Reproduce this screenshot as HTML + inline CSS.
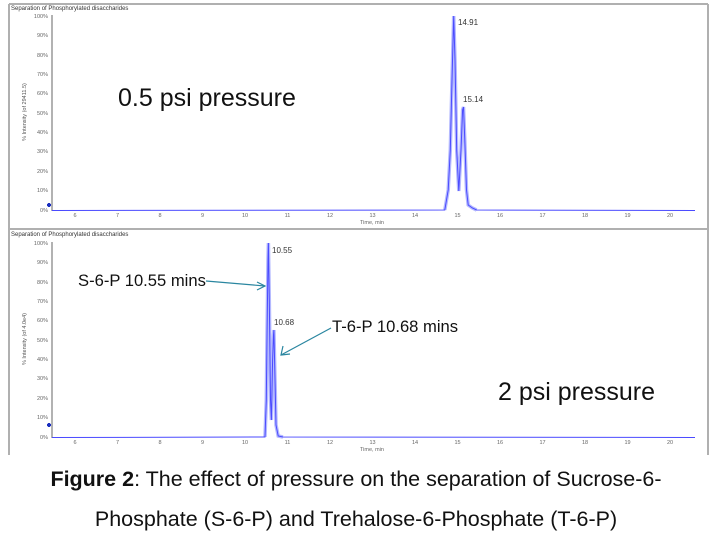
<!DOCTYPE html>
<html><head><meta charset="utf-8"><style>
html,body{margin:0;padding:0;background:#fff;}
svg{display:block;font-family:"Liberation Sans",Arial,sans-serif;}
</style></head><body>
<svg width="712" height="535" viewBox="0 0 712 535">
<line x1="9" y1="4" x2="708" y2="4" stroke="#b0b0b0" stroke-width="2"/>
<line x1="9" y1="229" x2="708" y2="229" stroke="#b0b0b0" stroke-width="2"/>
<line x1="9" y1="4" x2="9" y2="455" stroke="#b0b0b0" stroke-width="2"/>
<line x1="708" y1="4" x2="708" y2="229" stroke="#b0b0b0" stroke-width="2"/>
<line x1="708" y1="229" x2="708" y2="455" stroke="#b0b0b0" stroke-width="2"/>

<text x="11" y="10" font-size="6" fill="#333">Separation of Phosphorylated disaccharides</text>
<line x1="52" y1="15" x2="52" y2="211" stroke="#666" stroke-width="1"/>
<g font-size="5.5" fill="#666" text-anchor="end">
<text x="48" y="18">100%</text><text x="48" y="37">90%</text><text x="48" y="57">80%</text><text x="48" y="76">70%</text><text x="48" y="95">60%</text><text x="48" y="115">50%</text><text x="48" y="134">40%</text><text x="48" y="153">30%</text><text x="48" y="173">20%</text><text x="48" y="192">10%</text><text x="48" y="212">0%</text>
</g>
<text transform="translate(26,112) rotate(-90)" font-size="5.5" fill="#555" text-anchor="middle">% Intensity (of 29411.5)</text>
<g font-size="5.5" fill="#666" text-anchor="middle">
<text x="75" y="217">6</text><text x="117.5" y="217">7</text><text x="160" y="217">8</text><text x="202.5" y="217">9</text><text x="245" y="217">10</text><text x="287.5" y="217">11</text><text x="330" y="217">12</text><text x="372.5" y="217">13</text><text x="415" y="217">14</text><text x="457.5" y="217">15</text><text x="500" y="217">16</text><text x="542.5" y="217">17</text><text x="585" y="217">18</text><text x="627.5" y="217">19</text><text x="670" y="217">20</text>
<text x="372" y="224">Time, min</text>
</g>
<path d="M47 205 h4 M49 203 v4" stroke="#1a2fbf" stroke-width="2.2"/>
<polyline fill="none" stroke="#b4b9ff" stroke-width="3.5" points="444.8,210 448.2,190 450.3,150 452,80 453.7,16 455,60 456.7,150 458.8,191 461,150 462.6,110 463.5,107 464.8,140 466.5,190 468.2,205 472.4,208 476.6,210"/>
<polyline fill="none" stroke="#4a4aff" stroke-width="1" points="52,210.5 444.8,210 448.2,190 450.3,150 452,80 453.7,16 455,60 456.7,150 458.8,191 461,150 462.6,110 463.5,107 464.8,140 466.5,190 468.2,205 472.4,208 476.6,210 695,210.5"/>
<text x="458" y="25" font-size="8" fill="#333">14.91</text>
<text x="463" y="102" font-size="8" fill="#333">15.14</text>
<text x="118" y="106" font-size="25" fill="#111">0.5 psi pressure</text>

<text x="11" y="236" font-size="6" fill="#333">Separation of Phosphorylated disaccharides</text>
<line x1="52" y1="242" x2="52" y2="438" stroke="#666" stroke-width="1"/>
<g font-size="5.5" fill="#666" text-anchor="end">
<text x="48" y="245">100%</text><text x="48" y="264">90%</text><text x="48" y="284">80%</text><text x="48" y="303">70%</text><text x="48" y="322">60%</text><text x="48" y="342">50%</text><text x="48" y="361">40%</text><text x="48" y="380">30%</text><text x="48" y="400">20%</text><text x="48" y="419">10%</text><text x="48" y="439">0%</text>
</g>
<text transform="translate(26,339) rotate(-90)" font-size="5.5" fill="#555" text-anchor="middle">% Intensity (of 4.0e4)</text>
<g font-size="5.5" fill="#666" text-anchor="middle">
<text x="75" y="444">6</text><text x="117.5" y="444">7</text><text x="160" y="444">8</text><text x="202.5" y="444">9</text><text x="245" y="444">10</text><text x="287.5" y="444">11</text><text x="330" y="444">12</text><text x="372.5" y="444">13</text><text x="415" y="444">14</text><text x="457.5" y="444">15</text><text x="500" y="444">16</text><text x="542.5" y="444">17</text><text x="585" y="444">18</text><text x="627.5" y="444">19</text><text x="670" y="444">20</text>
<text x="372" y="451">Time, min</text>
</g>
<path d="M47 425 h4 M49 423 v4" stroke="#1a2fbf" stroke-width="2.2"/>
<polyline fill="none" stroke="#b4b9ff" stroke-width="3.5" points="265,437 266.3,400 267.1,330 268,260 268.4,243 269.3,300 270.5,400 271.4,420 272.6,360 273.5,335 273.9,330 274.8,370 276,425 278.2,436 283,437"/>
<polyline fill="none" stroke="#4a4aff" stroke-width="1" points="52,437.5 265,437 266.3,400 267.1,330 268,260 268.4,243 269.3,300 270.5,400 271.4,420 272.6,360 273.5,335 273.9,330 274.8,370 276,425 278.2,436 283,437 695,437.5"/>
<text x="272" y="253" font-size="8" fill="#333">10.55</text>
<text x="274" y="325" font-size="8" fill="#333">10.68</text>
<text x="498" y="400" font-size="25" fill="#111">2 psi pressure</text>

<text x="78" y="286" font-size="16.6" fill="#111">S-6-P 10.55 mins</text>
<line x1="206" y1="281" x2="265" y2="286" stroke="#2a86a0" stroke-width="1.2"/>
<path d="M257 282 L265 286 L257 290" fill="none" stroke="#2a86a0" stroke-width="1.2"/>
<text x="332" y="332" font-size="16.6" fill="#111">T-6-P 10.68 mins</text>
<line x1="331" y1="328" x2="281" y2="355" stroke="#2a86a0" stroke-width="1.2"/>
<path d="M283 346 L281 355 L290 354" fill="none" stroke="#2a86a0" stroke-width="1.2"/>

<text x="356" y="486" font-size="21.5" fill="#111" text-anchor="middle"><tspan font-weight="bold">Figure 2</tspan>:  The effect of pressure on the separation of Sucrose-6-</text>
<text x="356" y="526" font-size="21.5" fill="#111" text-anchor="middle">Phosphate (S-6-P) and Trehalose-6-Phosphate (T-6-P)</text>
</svg>
</body></html>
